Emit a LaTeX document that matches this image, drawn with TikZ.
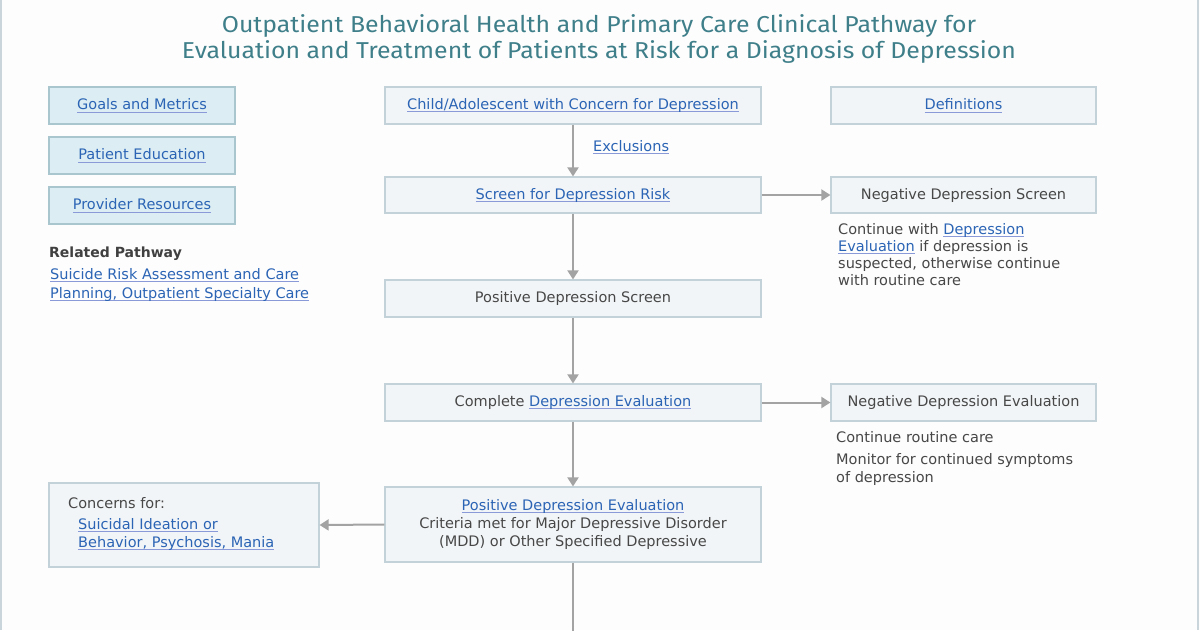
\documentclass[tikz,border=0pt]{standalone}
\usepackage{fontspec}
\setmainfont{DejaVu Sans}
\newfontfamily\titlefont[FakeStretch=1.08]{Fira Sans}
\usetikzlibrary{arrows.meta}
\definecolor{bgc}{HTML}{FDFDFD}
\definecolor{edgec}{HTML}{C9D5DA}
\definecolor{titlec}{HTML}{3F7F8A}
\definecolor{linkc}{HTML}{2B64B5}
\definecolor{ulc}{HTML}{8A9AD8}
\definecolor{txtc}{HTML}{474747}
\definecolor{boxfill}{HTML}{F2F5F7}
\definecolor{boxdraw}{HTML}{C3D2D8}
\definecolor{navfill}{HTML}{DCEEF3}
\definecolor{navdraw}{HTML}{A9C6CE}
\definecolor{arrc}{HTML}{A3A3A3}
\newcommand{\lnk}[1]{{\color{linkc}\setbox0\hbox{#1}\rlap{\color{ulc}\rule[-2.8pt]{\wd0}{0.9pt}}\box0}}
\tikzset{
  every node/.style={font=\fontsize{14.5}{17}\selectfont, text=txtc},
  flowbox/.style={draw=boxdraw, fill=boxfill, line width=1.2pt, rectangle, inner sep=0pt},
  navbox/.style={draw=navdraw, fill=navfill, line width=1.4pt, rectangle, inner sep=0pt},
  conn/.style={draw=arrc, line width=2pt, -{Triangle[length=9pt,width=11pt]}},
  plain/.style={draw=arrc, line width=2pt},
}
\begin{document}
\begin{tikzpicture}[x=1pt,y=-1pt]
\useasboundingbox (0,0) rectangle (1200,630);
\fill[bgc] (0,0) rectangle (1200,630);
\draw[edgec, line width=2.5pt] (1.2,0) -- (1.2,630);
\draw[edgec, line width=2.5pt] (1197.8,0) -- (1197.8,630);
% title
\node[font=\titlefont\fontsize{23}{26}\selectfont, text=titlec, align=center] (title) at (599,39)
  {Outpatient Behavioral Health and Primary Care Clinical Pathway for\\Evaluation and Treatment of Patients at Risk for a Diagnosis of Depression};
% nav boxes
\node[navbox, minimum width=186pt, minimum height=37pt] (goals) at (142,105.5) {\lnk{Goals and Metrics}};
\node[navbox, minimum width=186pt, minimum height=37pt] (edu) at (142,155.5) {\lnk{Patient Education}};
\node[navbox, minimum width=186pt, minimum height=37pt] (prov) at (142,205.5) {\lnk{Provider Resources}};
\node[anchor=west, inner sep=0pt, font=\bfseries\fontsize{14}{17}\selectfont, text=txtc!90!black] (rel) at (49,254) {Related Pathway};
\node[anchor=north west, align=left, inner sep=0pt, font=\fontsize{14.5}{19}\selectfont] (relp) at (50,268)
  {\lnk{Suicide Risk Assessment and Care}\\\lnk{Planning, Outpatient Specialty Care}};
% main column boxes
\node[flowbox, minimum width=376pt, minimum height=37pt] (child) at (573,105.5) {\lnk{Child/Adolescent with Concern for Depression}};
\node[flowbox, minimum width=265pt, minimum height=37pt] (defs) at (963.5,105.5) {\lnk{Definitions}};
\node[flowbox, minimum width=376pt, minimum height=36pt] (screen) at (573,195) {\lnk{Screen for Depression Risk}};
\node[flowbox, minimum width=265pt, minimum height=36pt] (negscr) at (963.5,195) {Negative Depression Screen};
\node[flowbox, minimum width=376pt, minimum height=37pt] (posscr) at (573,298.5) {Positive Depression Screen};
\node[flowbox, minimum width=376pt, minimum height=37pt] (compl) at (573,402.5) {Complete \lnk{Depression Evaluation}};
\node[flowbox, minimum width=265pt, minimum height=37pt] (negev) at (963.5,402.5) {Negative Depression Evaluation};
\node[flowbox, minimum width=376pt, minimum height=75pt, align=center, font=\fontsize{14.5}{18}\selectfont] (posev) at (573,524.5)
  {\lnk{Positive Depression Evaluation}\\Criteria met for Major Depressive Disorder\\(MDD) or Other Specified Depressive};
\node[flowbox, minimum width=270pt, minimum height=84pt] (conc) at (184,525) {};
\node[anchor=west, inner sep=0pt] (conct) at (68,503) {Concerns for:};
\node[anchor=north west, align=left, inner sep=0pt, font=\fontsize{14.5}{18}\selectfont] (concl) at (78,518)
  {\lnk{Suicidal Ideation or}\\\lnk{Behavior, Psychosis, Mania}};
% side texts
\node[anchor=north west, align=left, inner sep=0pt, font=\fontsize{14.5}{17}\selectfont] (negscrt) at (838,223)
  {Continue with \lnk{Depression}\\\lnk{Evaluation} if depression is\\suspected, otherwise continue\\with routine care};
\node[anchor=west, inner sep=0pt] (cont) at (836,437) {Continue routine care};
\node[anchor=north west, align=left, inner sep=0pt, font=\fontsize{14.5}{18}\selectfont] (mon) at (836,453)
  {Monitor for continued symptoms\\of depression};
% connectors
\draw[conn] (child) -- (screen);
\node[anchor=west, inner sep=0pt] (excl) at (593,147) {\lnk{Exclusions}};
\draw[conn] (screen) -- (posscr);
\draw[conn] (posscr) -- (compl);
\draw[conn] (compl) -- (posev);
\draw[conn] (screen) -- (negscr);
\draw[conn] (compl) -- (negev);
\draw[conn] (posev.west) -- (conc.east);
\coordinate (bot) at (573,632);
\draw[plain] (posev) -- (bot);
\end{tikzpicture}
\end{document}
